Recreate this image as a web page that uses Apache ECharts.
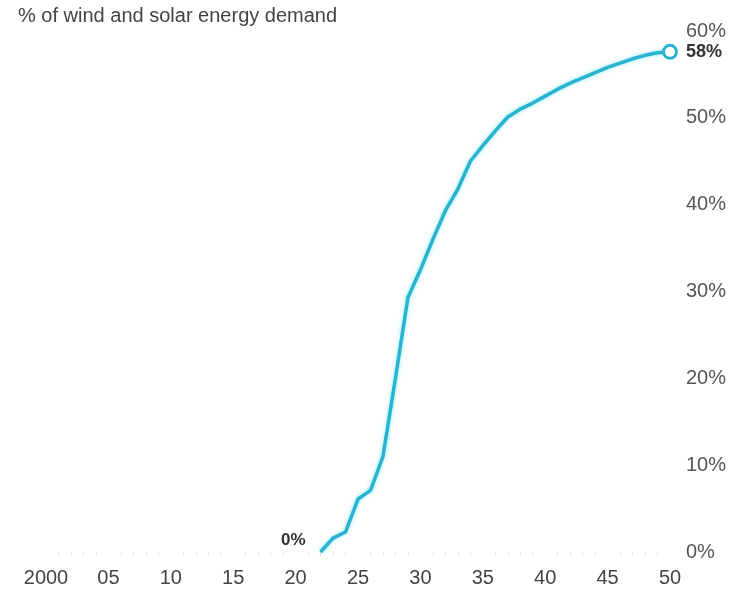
<!DOCTYPE html>
<html>
<head>
<meta charset="utf-8">
<script src="https://cdn.jsdelivr.net/npm/echarts@6/dist/echarts.min.js"></script>
<style>
html,body{margin:0;padding:0;background:#fff;}
#c{width:736px;height:589px;}
</style>
</head>
<body>
<div id="c"></div>
<script>
const titleText = '% of wind and solar energy demand';
const years = [2022,2023,2024,2025,2026,2027,2028,2029,2030,2031,2032,2033,2034,2035,2036,2037,2038,2039,2040,2041,2042,2043,2044,2045,2046,2047,2048,2049,2050];
const shares = [0,1.6,2.3,6.1,7.1,11,20,29.3,32.5,36,39.3,41.8,45,46.8,48.5,50.1,51,51.7,52.5,53.3,54,54.6,55.2,55.8,56.3,56.8,57.2,57.5,57.6];
const xTickValues = [2000,2005,2010,2015,2020,2025,2030,2035,2040,2045,2050];
const xTickLabels = ['2000','05','10','15','20','25','30','35','40','45','50'];
const yTickValues = [0,10,20,30,40,50,60];
const yTickLabels = ['0%','10%','20%','30%','40%','50%','60%'];

const FONT = 'Liberation Sans, Arial, sans-serif';
const lineColor = '#28b4ce';
const lastIdx = years.length - 1;

const seriesData = years.map((y, i) => {
  const item = { value: [y, shares[i]] };
  if (i === 0) {
    item.symbol = 'circle';
    item.symbolSize = 2;
    item.itemStyle = { color: 'rgba(0,0,0,0)', borderWidth: 0 };
    item.label = {
      show: true, position: 'left', distance: 14, offset: [0, -12],
      formatter: Math.round(shares[i]) + '%',
      fontFamily: FONT, fontSize: 17, fontWeight: 'bold', color: '#333'
    };
  }
  if (i === lastIdx) {
    item.symbol = 'circle';
    item.symbolSize = 13;
    item.itemStyle = { color: '#fff', borderColor: lineColor, borderWidth: 3 };
    item.label = {
      show: true, position: 'right', distance: 8,
      formatter: Math.round(shares[i]) + '%',
      fontFamily: FONT, fontSize: 18, fontWeight: 'bold', color: '#333'
    };
  }
  return item;
});

const chart = echarts.init(document.getElementById('c'));
chart.setOption({
  animation: false,
  backgroundColor: '#fff',
  title: {
    text: titleText, left: 13, top: 1,
    textStyle: { fontFamily: FONT, fontSize: 20, fontWeight: 'normal', color: '#444' }
  },
  grid: { left: 46, right: 66, top: 31, bottom: 37 },
  xAxis: {
    type: 'value', min: 2000, max: 2050, interval: 5,
    axisLine: { show: false },
    axisTick: { show: false },
    minorTick: { show: true, splitNumber: 5, length: 4, lineStyle: { color: '#e6e6e6' } },
    splitLine: { show: false },
    axisLabel: {
      margin: 16, fontFamily: FONT, fontSize: 20, color: '#444',
      formatter: v => { const i = xTickValues.indexOf(v); return i >= 0 ? xTickLabels[i] : ''; }
    }
  },
  yAxis: {
    type: 'value', position: 'right', min: 0, max: 60, interval: 10,
    axisLine: { show: false }, axisTick: { show: false }, splitLine: { show: false },
    axisLabel: {
      margin: 16, fontFamily: FONT, fontSize: 20, color: '#555',
      formatter: v => { const i = yTickValues.indexOf(v); return i >= 0 ? yTickLabels[i] : ''; }
    }
  },
  series: [{
    type: 'line',
    data: seriesData,
    symbol: 'none',
    lineStyle: { color: lineColor, width: 3.5, shadowColor: 'rgba(90,225,245,0.7)', shadowBlur: 4 },
    z: 3
  }]
});
</script>
</body>
</html>
